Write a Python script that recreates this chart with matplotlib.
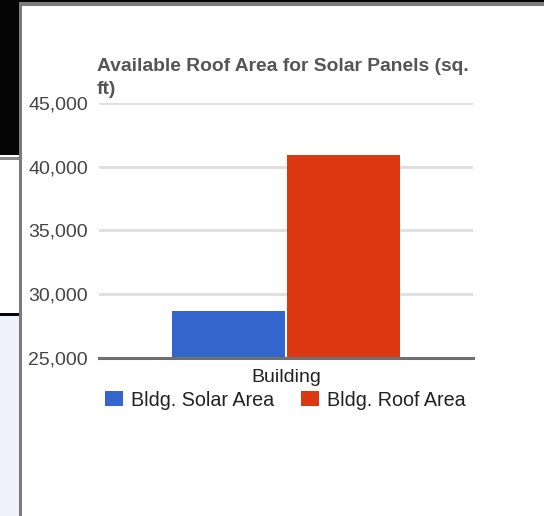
import matplotlib
matplotlib.use("Agg")
import matplotlib.pyplot as plt
from matplotlib.patches import Rectangle

# chart data
categories = ["Building"]
series_names = ["Bldg. Solar Area", "Bldg. Roof Area"]
solar_area = [28700]
roof_area = [40900]
series_colors = ["#3366cc", "#dc3912"]
y_ticks = [25000, 30000, 35000, 40000, 45000]
title = "Available Roof Area for Solar Panels (sq.\nft)"

W, H = 544, 516
plt.rcParams['font.family'] = ['Liberation Sans', 'DejaVu Sans']

fig = plt.figure(figsize=(W / 100, H / 100), dpi=100)
fig.patch.set_facecolor("white")


def box(x0, y0, x1, y1, color):
    # pixel box (top-left origin) -> figure fraction
    fig.add_artist(Rectangle((x0 / W, 1 - y1 / H), (x1 - x0) / W, (y1 - y0) / H,
                             transform=fig.transFigure, facecolor=color,
                             edgecolor="none", zorder=0))


# screenshot surroundings
box(0, 0, W, 2.5, "#050505")
box(0, 0, 18.5, 155, "#050505")
box(0, 157, 18.5, 160, "#8a8a8a")
box(0, 313, 18.5, 316, "#050505")
box(0, 316, 18.5, H, "#eef0fb")
box(18.5, 2.5, W, 5.5, "#7b7b7b")
box(18.5, 2.5, 21.5, H, "#7b7b7b")

# plot area
left, right, top, bottom = 99, 473, 103, 358
ax = fig.add_axes([left / W, 1 - bottom / H, (right - left) / W, (bottom - top) / H])
ax.set_facecolor("none")

bar_w = 0.302
gap = 0.003
x = range(len(categories))
b1 = ax.bar([i - bar_w / 2 - gap for i in x], solar_area, bar_w,
            color=series_colors[0], label=series_names[0], zorder=3)
b2 = ax.bar([i + bar_w / 2 + gap for i in x], roof_area, bar_w,
            color=series_colors[1], label=series_names[1], zorder=3)

ax.set_xlim(-0.5, 0.5)
ax.set_ylim(y_ticks[0], y_ticks[-1])
ax.set_yticks(y_ticks)
ax.set_yticklabels([f"{v:,}" for v in y_ticks])
ax.set_xticks(list(x))
ax.set_xticklabels(categories)
ax.tick_params(axis="y", length=0, pad=8, labelsize=14, labelcolor="#444444")
ax.tick_params(axis="x", length=0, pad=8, labelsize=14, labelcolor="#222222")
ax.yaxis.grid(True, color="#dedede", linewidth=2, zorder=1)
for s in ["top", "right", "left"]:
    ax.spines[s].set_visible(False)
ax.spines["bottom"].set_color("#6f6f6f")
ax.spines["bottom"].set_linewidth(2.2)
ax.spines["bottom"].set_zorder(4)

fig.text(97 / W, 1 - 58 / H, title, ha="left", va="top",
         fontsize=13.9, fontweight="bold", color="#555555", linespacing=1.45)

ax.legend(handles=[b1, b2], ncol=2, frameon=False, fontsize=14.2,
          loc="center left", bbox_to_anchor=(105 / W, 1 - 400 / H),
          bbox_transform=fig.transFigure, borderpad=0, borderaxespad=0,
          handlelength=0.92, handleheight=0.82, handletextpad=0.4,
          columnspacing=1.34, labelcolor="#222222")

fig.savefig("out.png", dpi=100)
